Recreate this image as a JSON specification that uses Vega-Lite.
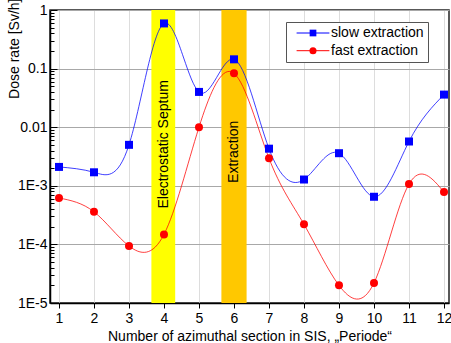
{
  "$schema": "https://vega.github.io/schema/vega-lite/v6.json",
  "autosize": "none",
  "width": 399,
  "height": 293,
  "padding": {"left": 50, "top": 10, "right": 2, "bottom": 40},
  "background": "white",
  "config": {
    "font": "Liberation Sans",
    "view": {"stroke": "#222", "strokeWidth": 1.5},
    "axis": {"labelColor": "black", "titleColor": "black", "labelFontSize": 14, "titleFontSize": 14, "titleFontWeight": "normal", "domainColor": "black", "domainWidth": 1.5, "tickColor": "black"},
    "axisX": {"labelOverlap": false, "labelFlush": false}
  },
  "resolve": {"scale": {"shape": "independent"}},
  "datasets": {
    "series": [
      {"x": 1, "series": "slow extraction", "kind": "slow", "dose": 0.0021},
      {"x": 2, "series": "slow extraction", "kind": "slow", "dose": 0.0017},
      {"x": 3, "series": "slow extraction", "kind": "slow", "dose": 0.005},
      {"x": 4, "series": "slow extraction", "kind": "slow", "dose": 0.59},
      {"x": 5, "series": "slow extraction", "kind": "slow", "dose": 0.04},
      {"x": 6, "series": "slow extraction", "kind": "slow", "dose": 0.144},
      {"x": 7, "series": "slow extraction", "kind": "slow", "dose": 0.0043},
      {"x": 8, "series": "slow extraction", "kind": "slow", "dose": 0.00128},
      {"x": 9, "series": "slow extraction", "kind": "slow", "dose": 0.0036},
      {"x": 10, "series": "slow extraction", "kind": "slow", "dose": 0.00065},
      {"x": 11, "series": "slow extraction", "kind": "slow", "dose": 0.0057},
      {"x": 12, "series": "slow extraction", "kind": "slow", "dose": 0.036},
      {"x": 1, "series": "fast extraction", "kind": "fast", "dose": 0.00062},
      {"x": 2, "series": "fast extraction", "kind": "fast", "dose": 0.00036},
      {"x": 3, "series": "fast extraction", "kind": "fast", "dose": 0.000094},
      {"x": 4, "series": "fast extraction", "kind": "fast", "dose": 0.000148},
      {"x": 5, "series": "fast extraction", "kind": "fast", "dose": 0.01},
      {"x": 6, "series": "fast extraction", "kind": "fast", "dose": 0.083},
      {"x": 7, "series": "fast extraction", "kind": "fast", "dose": 0.00295},
      {"x": 8, "series": "fast extraction", "kind": "fast", "dose": 0.00022},
      {"x": 9, "series": "fast extraction", "kind": "fast", "dose": 0.00002},
      {"x": 10, "series": "fast extraction", "kind": "fast", "dose": 0.000022},
      {"x": 11, "series": "fast extraction", "kind": "fast", "dose": 0.00107},
      {"x": 12, "series": "fast extraction", "kind": "fast", "dose": 0.00078}
    ],
    "septum": [{"x": 3.64, "x2": 4.32}],
    "extraction": [{"x": 5.64, "x2": 6.36}],
    "labels1": [{"x": 4, "y": 0.0051, "label": "Electrostatic Septum"}],
    "labels2": [{"x": 6, "y": 0.0038, "label": "Extraction"}]
  },
  "encoding": {
    "x": {"field": "x", "type": "quantitative", "scale": {"domain": [0.743, 12.143], "nice": false, "zero": false},
      "axis": {"values": [1,2,3,4,5,6,7,8,9,10,11,12], "title": "Number of azimuthal section in SIS, „Periode“", "gridColor": "#dddddd", "tickSize": 5, "labelPadding": 3, "titlePadding": 4, "labelFlush": false, "labelOverlap": false}}
  },
  "layer": [
    {
      "data": {"name": "septum"},
      "mark": {"type": "rect", "color": "#ffff00"},
      "encoding": {"x2": {"field": "x2"}}
    },
    {
      "data": {"name": "extraction"},
      "mark": {"type": "rect", "color": "#ffc800"},
      "encoding": {"x2": {"field": "x2"}}
    },
    {
      "data": {"name": "series"},
      "mark": {"type": "line", "interpolate": "natural", "strokeWidth": 1, "strokeOpacity": 0.75},
      "encoding": {
        "y": {"field": "dose", "type": "quantitative",
          "scale": {"type": "log", "domain": [0.00001, 1], "nice": false},
          "axis": {
            "title": "Dose rate [Sv/h]",
            "values": [0.00001,0.00002,0.00003,0.00004,0.00005,0.00006,0.00007,0.00008,0.00009,0.0001,0.0002,0.0003,0.0004,0.0005,0.0006,0.0007,0.0008,0.0009,0.001,0.002,0.003,0.004,0.005,0.006,0.007,0.008,0.009,0.01,0.02,0.03,0.04,0.05,0.06,0.07,0.08,0.09,0.1,0.2,0.3,0.4,0.5,0.6,0.7,0.8,0.9,1],
            "labelExpr": "abs(log(datum.value)/LN10 - round(log(datum.value)/LN10)) < 1e-6 ? (datum.value >= 0.01 ? format(datum.value, '') : '1E' + round(log(datum.value)/LN10)) : ''",
            "tickSize": {"condition": {"test": "abs(log(datum.value)/LN10 - round(log(datum.value)/LN10)) < 1e-6", "value": -7}, "value": -4},
            "gridOpacity": {"condition": {"test": "abs(log(datum.value)/LN10 - round(log(datum.value)/LN10)) < 1e-6", "value": 1}, "value": 0},
            "gridColor": "#a8a8a8",
            "labelPadding": 10,
            "labelFlush": false,
            "labelOverlap": false,
            "titleAnchor": "end",
            "titleAlign": "right",
            "titleX": -36,
            "titleY": -12,
            "titleBaseline": "middle"
          }
        },
        "color": {"field": "series", "type": "nominal",
          "scale": {"domain": ["slow extraction", "fast extraction"], "range": ["#0000ff", "#ff0000"]},
          "legend": {
            "orient": "none", "legendX": 236, "legendY": 12, "title": null,
            "labelFont": "Liberation Sans", "labelFontSize": 14, "labelColor": "black",
            "strokeColor": "#555555", "fillColor": "white", "padding": 4,
            "symbolType": "M-4.1,0H4.1", "symbolSize": 64, "symbolStrokeWidth": 1,
            "symbolOffset": 16, "labelOffset": 11, "rowPadding": 3.7
          }
        }
      }
    },
    {
      "data": {"name": "series"},
      "transform": [{"filter": "datum.kind === 'slow'"}],
      "mark": {"type": "point", "filled": true, "opacity": 1, "size": 64, "color": "#0000ff"},
      "encoding": {
        "y": {"field": "dose", "type": "quantitative"},
        "shape": {"field": "kind", "type": "nominal", "scale": {"domain": ["slow"], "range": ["square"]},
          "legend": {
            "orient": "none", "legendX": 236, "legendY": 12, "title": null,
            "labelFont": "Liberation Sans", "labelFontSize": 14, "labelExpr": "''",
            "strokeColor": null, "fillColor": null, "padding": 4,
            "symbolSize": 45, "symbolOffset": 16, "labelOffset": 11, "symbolFillColor": "#0000ff", "symbolStrokeColor": "#0000ff"
          }
        }
      }
    },
    {
      "data": {"name": "series"},
      "transform": [{"filter": "datum.kind === 'fast'"}],
      "mark": {"type": "point", "filled": true, "opacity": 1, "size": 64, "color": "#ff0000"},
      "encoding": {
        "y": {"field": "dose", "type": "quantitative"},
        "shape": {"field": "kind", "type": "nominal", "scale": {"domain": ["fast"], "range": ["circle"]},
          "legend": {
            "orient": "none", "legendX": 236, "legendY": 29.7, "title": null,
            "labelFont": "Liberation Sans", "labelFontSize": 14, "labelExpr": "''",
            "strokeColor": null, "fillColor": null, "padding": 4,
            "symbolSize": 50, "symbolOffset": 16, "labelOffset": 11, "symbolFillColor": "#ff0000", "symbolStrokeColor": "#ff0000"
          }
        }
      }
    },
    {
      "data": {"name": "labels1"},
      "mark": {"type": "text", "angle": 270, "fontSize": 14, "color": "black", "align": "center", "baseline": "middle"},
      "encoding": {
        "y": {"field": "y", "type": "quantitative"},
        "text": {"field": "label"}
      }
    },
    {
      "data": {"name": "labels2"},
      "mark": {"type": "text", "angle": 270, "fontSize": 14, "color": "black", "align": "center", "baseline": "middle"},
      "encoding": {
        "y": {"field": "y", "type": "quantitative"},
        "text": {"field": "label"}
      }
    }
  ]
}
